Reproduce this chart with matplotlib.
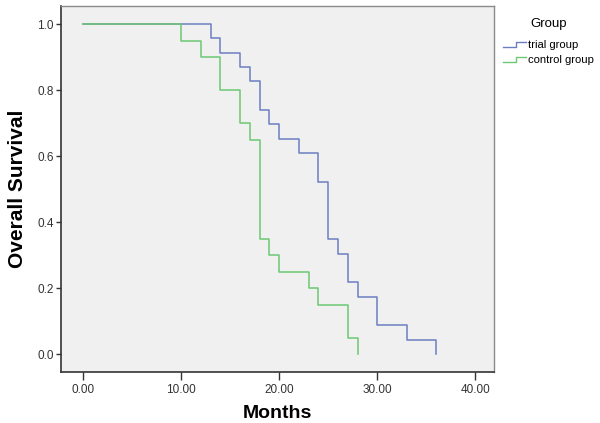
import matplotlib.pyplot as plt
from matplotlib.legend_handler import HandlerBase
from matplotlib.lines import Line2D

plt.rcParams['font.family'] = ['Liberation Sans', 'DejaVu Sans']

trial_months = [0, 13, 14, 16, 17, 18, 19, 20, 22, 24, 25, 26, 27, 28, 30, 33, 36]
trial_surv = [1.0, 0.957, 0.913, 0.870, 0.826, 0.739, 0.696, 0.652, 0.609, 0.522,
              0.348, 0.304, 0.217, 0.174, 0.087, 0.043, 0.0]
control_months = [0, 10, 12, 14, 16, 17, 18, 19, 20, 23, 24, 27, 28]
control_surv = [1.0, 0.95, 0.90, 0.80, 0.70, 0.65, 0.35, 0.30, 0.25, 0.20, 0.15, 0.05, 0.0]

x_ticks = [0, 10, 20, 30, 40]
y_ticks = [0.0, 0.2, 0.4, 0.6, 0.8, 1.0]

blue = '#6b7ec2'
green = '#6cc873'


class StepHandler(HandlerBase):
    # little step icon like SPSS legends
    def create_artists(self, legend, orig_handle, xdescent, ydescent,
                       width, height, fontsize, trans):
        xs = [0, width * 0.5, width * 0.5, width * 0.9]
        ys = [height * 0.1, height * 0.1, height * 0.8, height * 0.8]
        ln = Line2D(xs, ys, color=orig_handle.get_color(), lw=1.0, transform=trans)
        return [ln]


fig = plt.figure(figsize=(6, 4.23), dpi=100)
ax = fig.add_axes([0.102, 0.121, 0.722, 0.865])
ax.set_facecolor('#f0f0f0')

l1, = ax.step(trial_months, trial_surv, where='post', color=blue, lw=1.1, label='trial group')
l2, = ax.step(control_months, control_surv, where='post', color=green, lw=1.1,
              label='control group', zorder=3)

ax.set_xlim(-2.23, 41.94)
ax.set_ylim(-0.054, 1.055)
ax.set_xticks(x_ticks, [f'{v:.2f}' for v in x_ticks])
ax.set_yticks(y_ticks, [f'{v:.1f}' for v in y_ticks])
ax.tick_params(direction='out', width=1, labelsize=8.5, colors='#333333')
ax.tick_params(axis='x', length=5.5, pad=3)
ax.tick_params(axis='y', length=3.5, pad=2)

for s in ['left', 'bottom']:
    ax.spines[s].set_color('#333333')
    ax.spines[s].set_linewidth(1.2)
for s in ['top', 'right']:
    ax.spines[s].set_color('#8a8a8a')
    ax.spines[s].set_linewidth(1.0)

ax.set_xlabel('Months', fontsize=14, fontweight='bold', labelpad=7)
ax.set_ylabel('Overall Survival', fontsize=15, fontweight='bold', labelpad=7)

leg = fig.legend(handles=[l1, l2], loc='upper left', bbox_to_anchor=(0.826, 0.975),
                 title='Group', frameon=False, fontsize=8.1, title_fontsize=9.5,
                 handler_map={Line2D: StepHandler()}, handlelength=2.2,
                 handletextpad=0.0, labelspacing=0.45, borderpad=0.2)
leg._legend_box.sep = 7

fig.savefig('out.png', dpi=100)
